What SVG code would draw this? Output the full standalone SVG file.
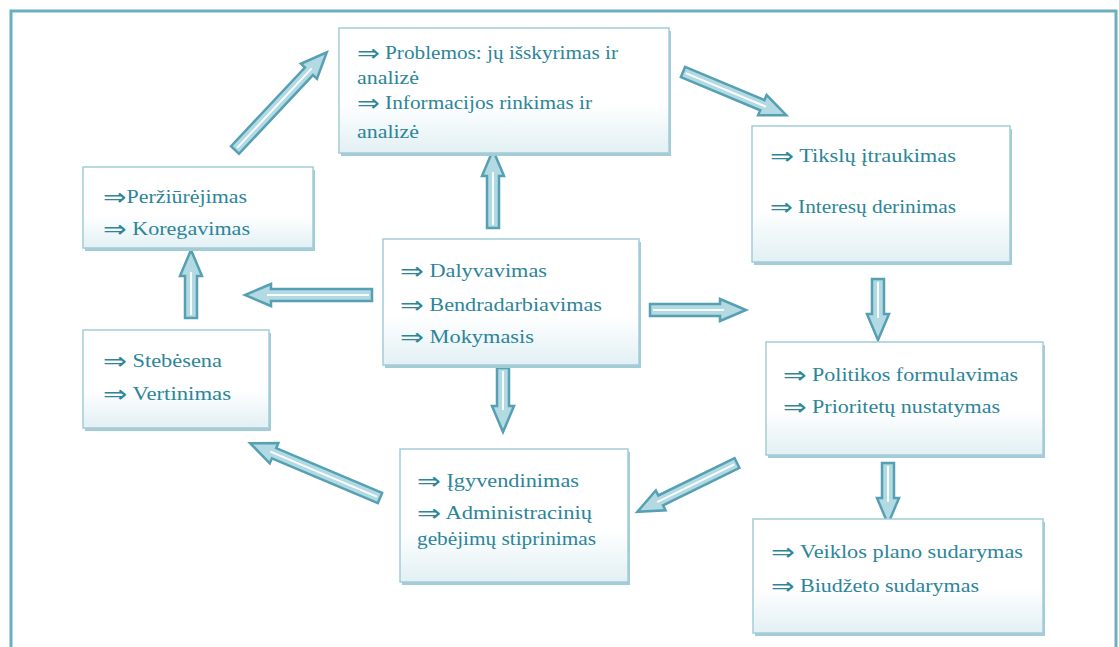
<svg xmlns="http://www.w3.org/2000/svg" width="1119" height="647" viewBox="0 0 1119 647">
<defs>
<linearGradient id="bg" x1="0" y1="0" x2="0" y2="1">
<stop offset="0" stop-color="#ffffff"/>
<stop offset="0.6" stop-color="#ffffff"/>
<stop offset="1" stop-color="#e2f0f4"/>
</linearGradient>
<style>
.frame{fill:none;stroke:#6aaec0;stroke-width:3}
.sh{fill:#a3ccd7}
.box{fill:url(#bg);stroke:#a2cdd8;stroke-width:1.5}
.t{font-family:"Liberation Serif","Times New Roman",serif;font-size:18px;fill:#2c8599}
.a{font-family:"DejaVu Sans",sans-serif;font-size:23px}
.arr{fill:#b3d9e3;stroke:#56a0b4;stroke-width:2.5;stroke-linejoin:miter}
.mid{stroke:#ffffff;stroke-width:2;fill:none;opacity:0.9}
</style>
</defs>
<rect width="1119" height="647" fill="#ffffff"/>
<rect class="frame" x="11" y="11" width="1105" height="660"/>

<g id="connectors">
<g transform="translate(235,150) rotate(-46.8)"><path class="arr" d="M0,-5.5 H108 V-11 L134,0 L108,11 V5.5 H0 Z"/><path class="mid" d="M3,0 H112"/></g>
<g transform="translate(683,72) rotate(22.7)"><path class="arr" d="M0,-5.5 H86 V-11 L112,0 L86,11 V5.5 H0 Z"/><path class="mid" d="M3,0 H90"/></g>
<g transform="translate(493,228) rotate(-90)"><path class="arr" d="M0,-6 H52 V-11 L78,0 L52,11 V6 H0 Z"/><path class="mid" d="M3,0 H56"/></g>
<g transform="translate(372,295) rotate(180)"><path class="arr" d="M0,-6 H101 V-11 L127,0 L101,11 V6 H0 Z"/><path class="mid" d="M3,0 H105"/></g>
<g transform="translate(191,318) rotate(-90)"><path class="arr" d="M0,-6 H42 V-11 L68,0 L42,11 V6 H0 Z"/><path class="mid" d="M3,0 H46"/></g>
<g transform="translate(650,310)"><path class="arr" d="M0,-6 H70 V-11 L96,0 L70,11 V6 H0 Z"/><path class="mid" d="M3,0 H74"/></g>
<g transform="translate(503,368) rotate(90)"><path class="arr" d="M0,-6 H38 V-11 L64,0 L38,11 V6 H0 Z"/><path class="mid" d="M3,0 H42"/></g>
<g transform="translate(878,279) rotate(90)"><path class="arr" d="M0,-6 H35 V-11 L61,0 L35,11 V6 H0 Z"/><path class="mid" d="M3,0 H39"/></g>
<g transform="translate(888,463) rotate(90)"><path class="arr" d="M0,-6 H35 V-11 L61,0 L35,11 V6 H0 Z"/><path class="mid" d="M3,0 H39"/></g>
<g transform="translate(737,463) rotate(153.9)"><path class="arr" d="M0,-5.5 H85 V-11 L111,0 L85,11 V5.5 H0 Z"/><path class="mid" d="M3,0 H89"/></g>
<g transform="translate(380,498) rotate(-157.1)"><path class="arr" d="M0,-5.5 H115 V-11 L141,0 L115,11 V5.5 H0 Z"/><path class="mid" d="M3,0 H119"/></g>
</g>

<g id="problemos">
<rect class="sh" x="341" y="31" width="330" height="125"/>
<rect class="box" x="339" y="28" width="330" height="125"/>
<text class="t" x="357" y="59" textLength="261" lengthAdjust="spacingAndGlyphs"><tspan class="a" baseline-shift="-2">⇒</tspan> Problemos: jų išskyrimas ir</text>
<text class="t" x="357" y="84" textLength="62" lengthAdjust="spacingAndGlyphs">analizė</text>
<text class="t" x="357" y="109" textLength="235" lengthAdjust="spacingAndGlyphs"><tspan class="a" baseline-shift="-2">⇒</tspan> Informacijos rinkimas ir</text>
<text class="t" x="357" y="138" textLength="62" lengthAdjust="spacingAndGlyphs">analizė</text>
</g>

<g id="perziurejimas">
<rect class="sh" x="85" y="170" width="230" height="81"/>
<rect class="box" x="83" y="167" width="230" height="81"/>
<text class="t" x="103" y="203" textLength="144" lengthAdjust="spacingAndGlyphs"><tspan class="a" baseline-shift="-2">⇒</tspan>Peržiūrėjimas</text>
<text class="t" x="103" y="235" textLength="147" lengthAdjust="spacingAndGlyphs"><tspan class="a" baseline-shift="-2">⇒</tspan> Koregavimas</text>
</g>

<g id="stebesena">
<rect class="sh" x="85" y="333" width="186" height="98"/>
<rect class="box" x="83" y="330" width="186" height="98"/>
<text class="t" x="103" y="367" textLength="119" lengthAdjust="spacingAndGlyphs"><tspan class="a" baseline-shift="-2">⇒</tspan> Stebėsena</text>
<text class="t" x="103" y="400" textLength="128" lengthAdjust="spacingAndGlyphs"><tspan class="a" baseline-shift="-2">⇒</tspan> Vertinimas</text>
</g>

<g id="dalyvavimas">
<rect class="sh" x="385" y="242" width="256" height="126"/>
<rect class="box" x="383" y="239" width="256" height="126"/>
<text class="t" x="400" y="277" textLength="147" lengthAdjust="spacingAndGlyphs"><tspan class="a" baseline-shift="-2">⇒</tspan> Dalyvavimas</text>
<text class="t" x="400" y="311" textLength="202" lengthAdjust="spacingAndGlyphs"><tspan class="a" baseline-shift="-2">⇒</tspan> Bendradarbiavimas</text>
<text class="t" x="400" y="343" textLength="134" lengthAdjust="spacingAndGlyphs"><tspan class="a" baseline-shift="-2">⇒</tspan> Mokymasis</text>
</g>

<g id="tikslu">
<rect class="sh" x="754" y="129" width="258" height="136"/>
<rect class="box" x="752" y="126" width="258" height="136"/>
<text class="t" x="770" y="162" textLength="186" lengthAdjust="spacingAndGlyphs"><tspan class="a" baseline-shift="-2">⇒</tspan> Tikslų įtraukimas</text>
<text class="t" x="770" y="213" textLength="186" lengthAdjust="spacingAndGlyphs"><tspan class="a" baseline-shift="-2" font-size="19">⇒</tspan> Interesų derinimas</text>
</g>

<g id="politikos">
<rect class="sh" x="768" y="345" width="277" height="113"/>
<rect class="box" x="766" y="342" width="277" height="113"/>
<text class="t" x="783" y="381" textLength="235" lengthAdjust="spacingAndGlyphs"><tspan class="a" baseline-shift="-2">⇒</tspan> Politikos formulavimas</text>
<text class="t" x="783" y="413" textLength="217" lengthAdjust="spacingAndGlyphs"><tspan class="a" baseline-shift="-2">⇒</tspan> Prioritetų nustatymas</text>
</g>

<g id="veiklos">
<rect class="sh" x="755" y="522" width="290" height="114"/>
<rect class="box" x="753" y="519" width="290" height="114"/>
<text class="t" x="771" y="558" textLength="252" lengthAdjust="spacingAndGlyphs"><tspan class="a" baseline-shift="-2">⇒</tspan> Veiklos plano sudarymas</text>
<text class="t" x="771" y="592" textLength="208" lengthAdjust="spacingAndGlyphs"><tspan class="a" baseline-shift="-2">⇒</tspan> Biudžeto sudarymas</text>
</g>

<g id="igyvendinimas">
<rect class="sh" x="402" y="452" width="228" height="133"/>
<rect class="box" x="400" y="449" width="228" height="133"/>
<text class="t" x="417" y="487" textLength="162" lengthAdjust="spacingAndGlyphs"><tspan class="a" baseline-shift="-2">⇒</tspan> Įgyvendinimas</text>
<text class="t" x="417" y="519" textLength="175" lengthAdjust="spacingAndGlyphs"><tspan class="a" baseline-shift="-2">⇒</tspan> Administracinių</text>
<text class="t" x="417" y="545" textLength="179" lengthAdjust="spacingAndGlyphs">gebėjimų stiprinimas</text>
</g>
</svg>
